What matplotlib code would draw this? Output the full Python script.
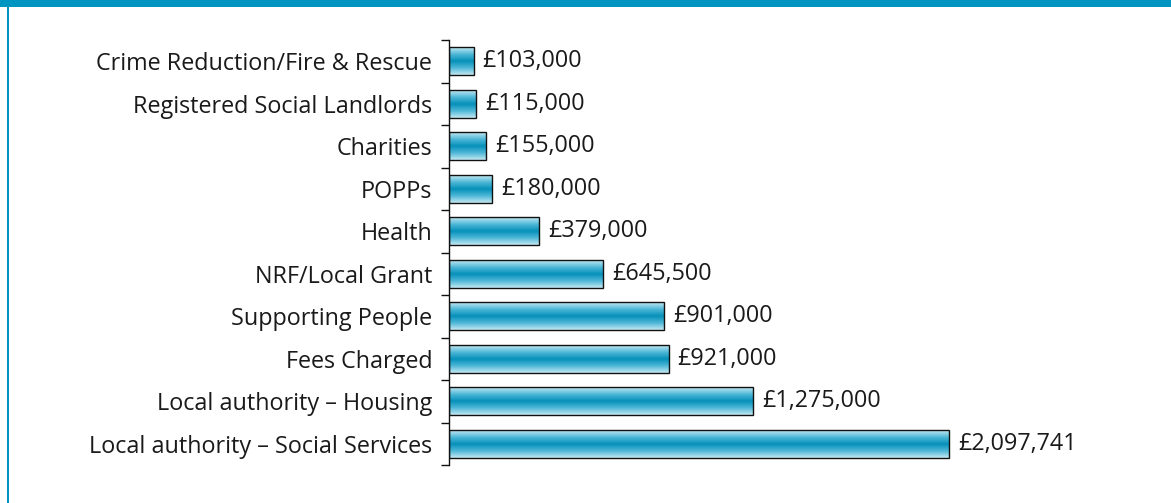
import numpy as np
import matplotlib
matplotlib.use("Agg")
import matplotlib.pyplot as plt
from matplotlib.colors import LinearSegmentedColormap
from matplotlib.patches import Rectangle

categories = ["Local authority \u2013 Social Services", "Local authority \u2013 Housing",
              "Fees Charged", "Supporting People", "NRF/Local Grant", "Health",
              "POPPs", "Charities", "Registered Social Landlords",
              "Crime Reduction/Fire & Rescue"]
values = [2097741, 1275000, 921000, 901000, 645500, 379000, 180000, 155000, 115000, 103000]
labels = ["\u00a32,097,741", "\u00a31,275,000", "\u00a3921,000", "\u00a3901,000", "\u00a3645,500",
          "\u00a3379,000", "\u00a3180,000", "\u00a3155,000", "\u00a3115,000", "\u00a3103,000"]

plt.rcParams['font.family'] = ['Open Sans', 'DejaVu Sans']

fig = plt.figure(figsize=(11.71, 5.03), dpi=100)
W, H = 1171, 503
ax = fig.add_axes([449 / W, 38 / H, (1150 - 449) / W, (465 - 40) / H])

cmap = LinearSegmentedColormap.from_list(
    "bar", ["#c4e8f2", "#4fb8d7", "#0590ba", "#4fb8d7", "#c4e8f2"])
grad = np.linspace(0, 1, 64).reshape(-1, 1)
bh = 0.65
for i, v in enumerate(values):
    ax.imshow(grad, cmap=cmap, aspect='auto', interpolation='bilinear',
              extent=[0, v, i - bh / 2, i + bh / 2], zorder=2)
    ax.add_patch(Rectangle((0, i - bh / 2), v, bh, fill=False,
                           edgecolor='#111111', linewidth=1.0, zorder=3))
    ax.annotate(labels[i], (v, i), xytext=(6.5, 0), textcoords='offset points',
                va='center', ha='left', fontsize=16.8, color='#1a1a1a')

ax.set_xlim(0, 2097741 * 701 / 500)
ax.set_ylim(-0.5, len(values) - 0.5)
ax.set_yticks(range(len(values)))
ax.set_yticklabels(categories, fontsize=16.8, color='#1a1a1a')
ax.tick_params(axis='y', which='major', length=0, pad=12)
ax.set_yticks(np.arange(-0.5, len(values), 1), minor=True)
ax.tick_params(axis='y', which='minor', length=6, width=1, color='#111111')
ax.set_xticks([])
for s in ['top', 'right', 'bottom']:
    ax.spines[s].set_visible(False)
ax.spines['left'].set_color('#111111')
ax.spines['left'].set_linewidth(1)

# page decoration: blue band on top and thin line on the left
fig.patches.append(Rectangle((0, 1 - 7 / H), 1, 7 / H, transform=fig.transFigure,
                             facecolor='#0095c0', edgecolor='none'))
fig.patches.append(Rectangle((7 / W, 0), 1.5 / W, 1, transform=fig.transFigure,
                             facecolor='#0095c0', edgecolor='none'))

fig.savefig("out.png", dpi=100)
